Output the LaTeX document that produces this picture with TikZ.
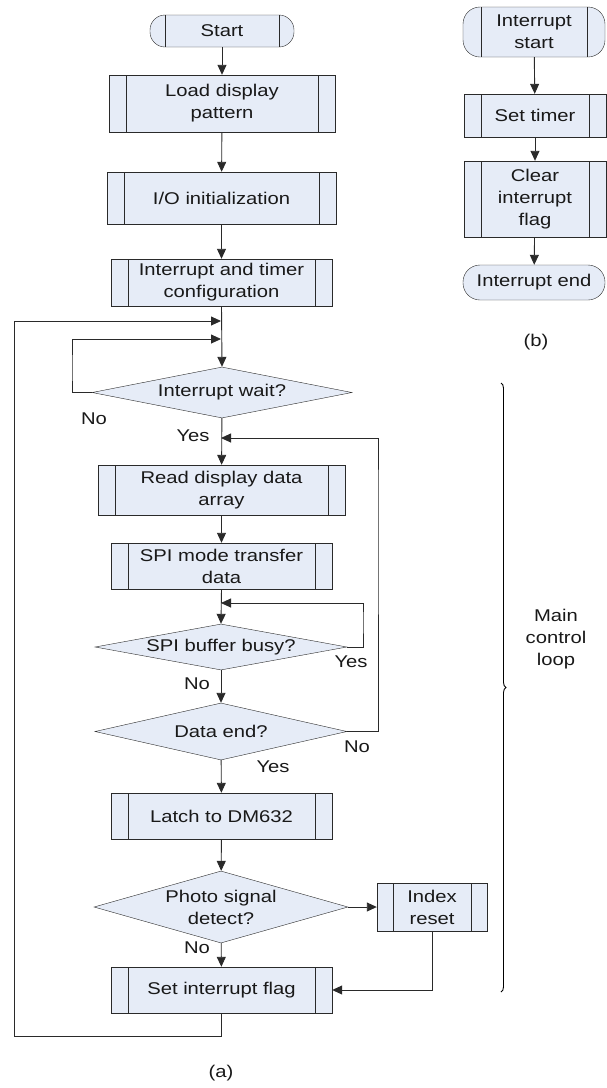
\documentclass[tikz,border=0pt]{standalone}
\usepackage{fontspec}
\setmainfont[FakeStretch=1.19]{Liberation Sans}
\usetikzlibrary{shapes.geometric,arrows.meta,decorations.pathreplacing}

\definecolor{boxfill}{HTML}{E6ECF7}
\definecolor{linec}{HTML}{2A2A2A}

\tikzset{
    procbox/.style={draw=linec, fill=boxfill, rectangle, inner sep=0pt, align=center,
        path picture={\draw[linec]
            ([xshift=#1]path picture bounding box.north west) -- ([xshift=#1]path picture bounding box.south west)
            ([xshift=-#1]path picture bounding box.north east) -- ([xshift=-#1]path picture bounding box.south east);}},
    procbox/.default=17pt,
    termbox/.style={draw=linec, fill=boxfill, rectangle, rounded corners=#1, inner sep=0pt, align=center},
    termbox/.default=16pt,
    decision/.style={draw=linec, fill=boxfill, diamond, aspect=#1, inner sep=0pt, align=center},
    decision/.default=5,
    flow/.style={draw=linec, line width=0.9pt, -{Triangle[width=9pt,length=10pt]}}
}

\begin{document}
\begin{tikzpicture}[x=1pt, y=-1pt, font=\fontsize{17}{22}\selectfont, text=black!90]
    \useasboundingbox (0,0) rectangle (606,1088);

    % (a) main program
    \node[termbox=15pt, minimum width=144pt, minimum height=32pt,
        path picture={\draw[linec] ([xshift=15pt]path picture bounding box.north west) -- ([xshift=15pt]path picture bounding box.south west)
            ([xshift=-15pt]path picture bounding box.north east) -- ([xshift=-15pt]path picture bounding box.south east);}]
        (start) at (222,31) {Start};
    \node[procbox, minimum width=226pt, minimum height=57pt] (load) at (222,103.5) {Load display\\pattern};
    \node[procbox, minimum width=229pt, minimum height=52pt] (io) at (221.5,198) {I/O initialization};
    \node[procbox, minimum width=221pt, minimum height=47pt] (cfg) at (221.5,282.5) {Interrupt and timer\\configuration};
    \node[decision=6, minimum width=260pt, minimum height=51pt] (wait) at (222,392.5) {Interrupt wait?};
    \node[procbox, minimum width=247pt, minimum height=50pt] (read) at (221.5,490) {Read display data\\array};
    \node[procbox, minimum width=221pt, minimum height=46pt] (spi) at (221.5,566) {SPI mode transfer\\data};
    \node[decision=6, minimum width=252pt, minimum height=46pt] (busy) at (221,647) {SPI buffer busy?};
    \node[decision=6, minimum width=252pt, minimum height=57pt] (dend) at (221,731.5) {Data end?};
    \node[procbox, minimum width=221pt, minimum height=46pt] (latch) at (221.5,816) {Latch to DM632};
    \node[decision=3.5, minimum width=254pt, minimum height=72pt] (photo) at (221,907) {Photo signal\\detect?};
    \node[procbox=16pt, minimum width=110pt, minimum height=48pt] (index) at (432,907) {Index\\reset};
    \node[procbox, minimum width=221pt, minimum height=46pt] (flag) at (221.5,990) {Set interrupt flag};

    \coordinate (j1) at (221,321);
    \coordinate (j2) at (221,339);
    \coordinate (j3) at (221,438);
    \coordinate (j4) at (221,603);

    \draw[flow] (start) -- (load);
    \draw[flow] (load) -- (io);
    \draw[flow] (io) -- (cfg);
    \draw[flow] (cfg.south) -- (wait.north);
    \draw[flow] (wait) -- (read);
    \draw[flow] (read) -- (spi);
    \draw[flow] (spi.south) -- (busy.north);
    \draw[flow] (busy) -- (dend);
    \draw[flow] (dend) -- (latch);
    \draw[flow] (latch) -- (photo);
    \draw[flow] (photo) -- (flag);
    \draw[flow] (photo) -- (index);

    % loops back
    \draw[flow] (flag.south) |- (14,1036) |- (j1);
    \draw[flow] (wait.west) -| (72,370) |- (j2);
    \draw[flow] (dend.east) -| (378,500) |- (j3);
    \draw[flow] (busy.east) -| (363,620) |- (j4);
    \draw[flow] (index.south) |- (flag.east);

    \node (no1) at (94,419) {No};
    \node (yes1) at (193,436) {Yes};
    \node (yes2) at (351,662) {Yes};
    \node (no2) at (197,684) {No};
    \node (no3) at (357,747) {No};
    \node (yes3) at (273,767) {Yes};
    \node (no4) at (197,948) {No};

    % main control loop brace
    \draw[decorate, decoration={brace, amplitude=5pt}, line width=0.9pt] (501,383) -- (501,992);
    \node[align=center] (loop) at (556,639) {Main\\control\\loop};

    % (b) interrupt routine
    \node[termbox=17pt, minimum width=142pt, minimum height=50pt,
        path picture={\draw[linec] ([xshift=18pt]path picture bounding box.north west) -- ([xshift=18pt]path picture bounding box.south west)
            ([xshift=-18pt]path picture bounding box.north east) -- ([xshift=-18pt]path picture bounding box.south east);}]
        (istart) at (534,32) {Interrupt\\start};
    \node[procbox, minimum width=142pt, minimum height=43pt] (timer) at (535,115.5) {Set timer};
    \node[procbox, minimum width=142pt, minimum height=76pt] (clear) at (535,199) {Clear\\interrupt\\flag};
    \node[termbox=17pt, minimum width=142pt, minimum height=35pt] (iend) at (534,282.5) {Interrupt end};

    \draw[flow] (istart) -- (timer);
    \draw[flow] (timer) -- (clear);
    \draw[flow] (clear) -- (iend);

    \node (capb) at (536,342) {(b)};
    \node (capa) at (221,1073) {(a)};
\end{tikzpicture}
\end{document}
